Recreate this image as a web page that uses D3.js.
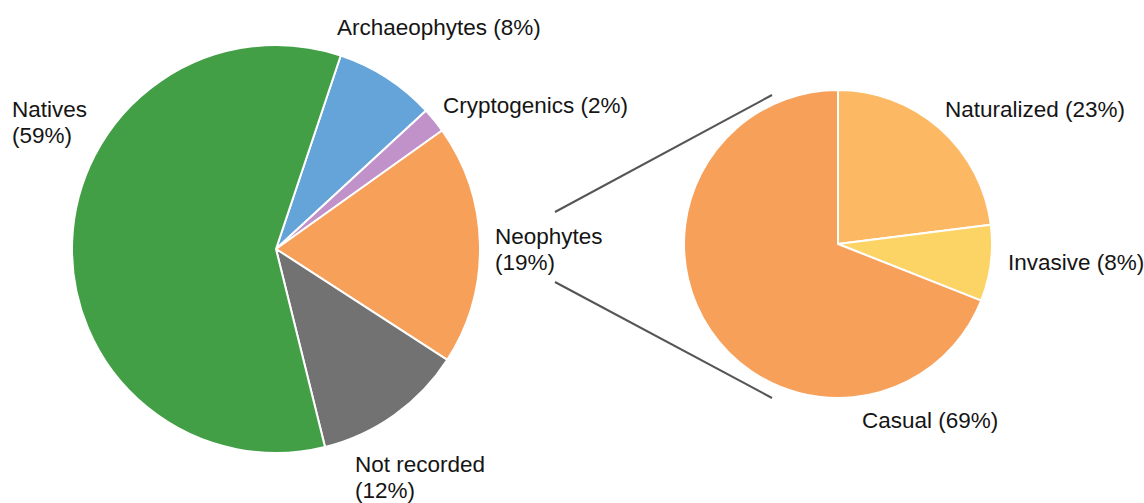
<!DOCTYPE html>
<html>
<head>
<meta charset="utf-8">
<script src="https://cdn.jsdelivr.net/npm/d3@7"></script>
<style>
  html, body { margin: 0; padding: 0; background: #fff; }
  svg { display: block; }
  text { font-family: "Liberation Sans", Arial, sans-serif; font-size: 22.5px; fill: #151515; }
</style>
</head>
<body>
<svg id="chart" width="1144" height="503"></svg>
<script>
// Plant status composition (main pie) and neophyte breakdown (detail pie)
const statusCategories = ["Archaeophytes", "Cryptogenics", "Neophytes", "Not recorded", "Natives"];
const statusValues = [8, 2, 19, 12, 59];
const statusColors = ["#65a4d9", "#c092c9", "#f6a05a", "#727272", "#439f46"];

const neoCategories = ["Naturalized", "Invasive", "Casual"];
const neoValues = [23, 8, 69];
const neoColors = ["#fdb863", "#fcd466", "#f6a05a"];

const svg = d3.select("#chart");
const deg = Math.PI / 180;

function drawPie(cx, cy, r, values, colors, startDeg) {
  const pie = d3.pie().sort(null)
    .startAngle(startDeg * deg)
    .endAngle(startDeg * deg + 2 * Math.PI);
  const arc = d3.arc().innerRadius(0).outerRadius(r);
  const g = svg.append("g").attr("transform", `translate(${cx},${cy})`);
  g.selectAll("path")
    .data(pie(values))
    .join("path")
    .attr("d", arc)
    .attr("fill", (d, i) => colors[i])
    .attr("stroke", "#fff")
    .attr("stroke-width", 2)
    .attr("stroke-linejoin", "round");
  return g;
}

drawPie(276, 249, 204, statusValues, statusColors, 18.5);
drawPie(838, 244, 154, neoValues, neoColors, 0);

// Connector lines from the Neophytes label to the detail pie
const connectors = [
  [[555, 212], [772, 95]],
  [[555, 282], [772, 398]]
];
svg.selectAll("line.conn")
  .data(connectors)
  .join("line")
  .attr("class", "conn")
  .attr("x1", d => d[0][0]).attr("y1", d => d[0][1])
  .attr("x2", d => d[1][0]).attr("y2", d => d[1][1])
  .attr("stroke", "#555")
  .attr("stroke-width", 2);

// Labels
const labels = [
  { lines: ["Natives", "(" + statusValues[4] + "%)"], x: 12, y: 117 },
  { lines: ["Archaeophytes (" + statusValues[0] + "%)"], x: 337, y: 35 },
  { lines: ["Cryptogenics (" + statusValues[1] + "%)"], x: 443, y: 113 },
  { lines: ["Neophytes", "(" + statusValues[2] + "%)"], x: 495, y: 244 },
  { lines: ["Not recorded", "(" + statusValues[3] + "%)"], x: 355, y: 472 },
  { lines: ["Naturalized (" + neoValues[0] + "%)"], x: 945, y: 117 },
  { lines: ["Invasive (" + neoValues[1] + "%)"], x: 1008, y: 270 },
  { lines: ["Casual (" + neoValues[2] + "%)"], x: 862, y: 428 }
];
const lt = svg.selectAll("text.lbl")
  .data(labels)
  .join("text")
  .attr("class", "lbl")
  .attr("x", d => d.x)
  .attr("y", d => d.y);
lt.selectAll("tspan")
  .data(d => d.lines.map((s, i) => ({ s, i, x: d.x })))
  .join("tspan")
  .attr("x", d => d.x)
  .attr("dy", d => d.i === 0 ? 0 : 26)
  .text(d => d.s);
</script>
</body>
</html>
